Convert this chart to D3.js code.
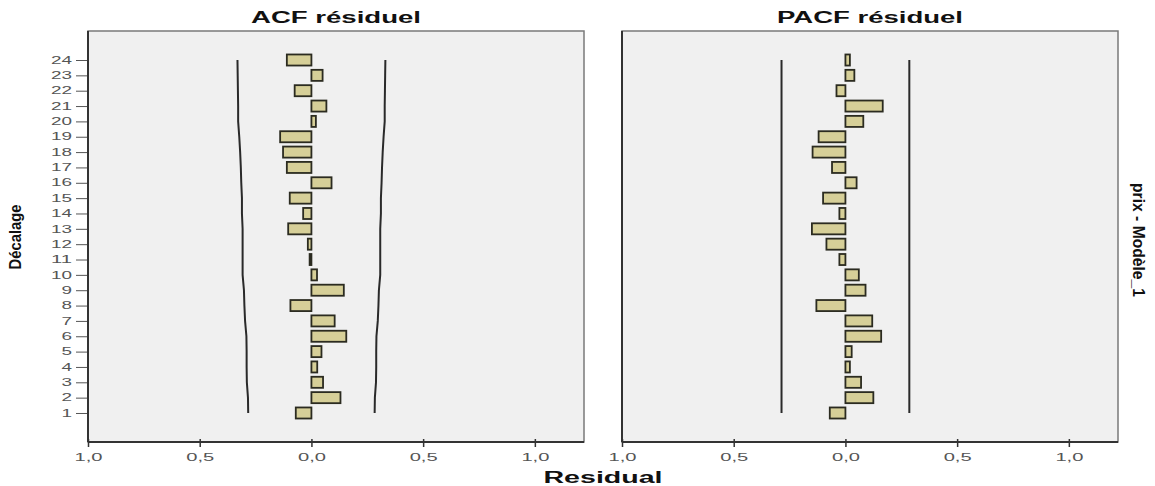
<!DOCTYPE html>
<html>
<head>
<meta charset="utf-8">
<script src="https://cdn.jsdelivr.net/npm/d3@7"></script>
<style>
  html, body { margin: 0; padding: 0; background: #ffffff; }
  svg { display: block; }
</style>
</head>
<body>
<svg id="chart" width="1155" height="486"></svg>
<script>
// ---- data ----
const lags = [1,2,3,4,5,6,7,8,9,10,11,12,13,14,15,16,17,18,19,20,21,22,23,24];
const acfValues = [-0.070, 0.130, 0.052, 0.026, 0.045, 0.156, 0.104, -0.094, 0.145, 0.025, -0.008, -0.016,
                   -0.104, -0.037, -0.097, 0.090, -0.110, -0.127, -0.140, 0.020, 0.067, -0.075, 0.050, -0.110];
const pacfValues = [-0.070, 0.125, 0.070, 0.020, 0.028, 0.160, 0.120, -0.130, 0.090, 0.060, -0.027, -0.085,
                    -0.150, -0.027, -0.100, 0.050, -0.060, -0.147, -0.120, 0.080, 0.167, -0.040, 0.040, 0.020];
const acfUpper = [0.283, 0.284, 0.289, 0.290, 0.290, 0.291, 0.297, 0.300, 0.302, 0.308, 0.308, 0.308,
                  0.308, 0.311, 0.311, 0.314, 0.316, 0.319, 0.323, 0.328, 0.328, 0.329, 0.330, 0.331];
const acfLower = [-0.283, -0.284, -0.289, -0.290, -0.290, -0.291, -0.297, -0.300, -0.302, -0.308, -0.308, -0.308,
                  -0.308, -0.311, -0.311, -0.314, -0.316, -0.319, -0.323, -0.328, -0.328, -0.329, -0.330, -0.331];
const pacfUpper = [0.286, 0.286, 0.286, 0.286, 0.286, 0.286, 0.286, 0.286, 0.286, 0.286, 0.286, 0.286,
                   0.286, 0.286, 0.286, 0.286, 0.286, 0.286, 0.286, 0.286, 0.286, 0.286, 0.286, 0.286];
const pacfLower = [-0.286, -0.286, -0.286, -0.286, -0.286, -0.286, -0.286, -0.286, -0.286, -0.286, -0.286, -0.286,
                   -0.286, -0.286, -0.286, -0.286, -0.286, -0.286, -0.286, -0.286, -0.286, -0.286, -0.286, -0.286];
const xTickValues = [-1.0, -0.5, 0.0, 0.5, 1.0];
const xTickLabels = ["1,0", "0,5", "0,0", "0,5", "1,0"];
const panelTitles = ["ACF résiduel", "PACF résiduel"];
const xAxisTitle = "Residual";
const yAxisTitle = "Décalage";
const rightLabel = "prix - Modèle_1";

// ---- layout ----
const svg = d3.select("#chart");
const plotTop = 31, plotBottom = 442;
const panels = [
  { x0: 88, x1: 584, title: panelTitles[0], titleW: 170, values: acfValues, upper: acfUpper, lower: acfLower, yTicks: true },
  { x0: 622, x1: 1118, title: panelTitles[1], titleW: 186, values: pacfValues, upper: pacfUpper, lower: pacfLower, yTicks: false }
];

const y = d3.scaleLinear().domain([-0.89, 25.89]).range([plotBottom, plotTop]);
const barH = Math.abs(y(0) - y(0.72));

const fontMain = "'Liberation Sans', Arial, sans-serif";

panels.forEach(p => {
  const x = d3.scaleLinear().domain([-1, 1.22]).range([p.x0, p.x1]);
  const g = svg.append("g");

  // background
  g.append("rect")
    .attr("x", p.x0).attr("y", plotTop)
    .attr("width", p.x1 - p.x0).attr("height", plotBottom - plotTop)
    .attr("fill", "#f0f0f0")
    .attr("stroke", "#7a7a7a").attr("stroke-width", 1.5);

  // confidence limits
  const line = d3.line().x(d => x(d[1])).y(d => y(d[0]));
  [p.upper, p.lower].forEach(arr => {
    g.append("path")
      .attr("d", line(lags.map((l, i) => [l, arr[i]])))
      .attr("fill", "none").attr("stroke", "#2a2a2a").attr("stroke-width", 2);
  });

  // bars
  g.selectAll("rect.bar").data(lags).enter().append("rect")
    .attr("class", "bar")
    .attr("x", (l, i) => Math.min(x(0), x(p.values[i])))
    .attr("y", l => y(l) - barH / 2)
    .attr("width", (l, i) => Math.abs(x(p.values[i]) - x(0)))
    .attr("height", barH)
    .attr("fill", "#d6cf98")
    .attr("stroke", "#2b2b20").attr("stroke-width", 1.8);

  // x axis
  const xAxis = d3.axisBottom(x).tickValues(xTickValues)
    .tickSize(5).tickPadding(7)
    .tickFormat((d, i) => xTickLabels[i]);
  const ax = g.append("g").attr("transform", `translate(0,${plotBottom})`).call(xAxis);
  ax.select(".domain").attr("stroke", "#333").attr("stroke-width", 2)
    .attr("d", `M${p.x0},0H${p.x1}`);
  ax.selectAll(".tick line").attr("stroke", "#333").attr("stroke-width", 1.5).attr("y1", -3);
  ax.selectAll(".tick text").attr("font-family", fontMain).attr("font-size", 10)
    .attr("fill", "#555")
    .attr("textLength", 28).attr("lengthAdjust", "spacingAndGlyphs");

  // left axis line
  g.append("line").attr("x1", p.x0).attr("x2", p.x0).attr("y1", plotTop).attr("y2", plotBottom)
    .attr("stroke", "#333").attr("stroke-width", 2);

  if (p.yTicks) {
    const yAxis = d3.axisLeft(y).tickValues(lags).tickSize(11).tickPadding(4).tickFormat(d3.format("d"));
    const ay = g.append("g").attr("transform", `translate(${p.x0 - 1},0)`).call(yAxis);
    ay.select(".domain").remove();
    ay.selectAll(".tick line").attr("stroke", "#555").attr("stroke-width", 1);
    ay.selectAll(".tick text").attr("font-family", fontMain).attr("font-size", 10)
      .attr("fill", "#555")
      .attr("textLength", d => String(d).length * 10.5)
      .attr("lengthAdjust", "spacingAndGlyphs");
  }

  // title
  g.append("text")
    .attr("x", (p.x0 + p.x1) / 2).attr("y", 23)
    .attr("text-anchor", "middle")
    .attr("font-family", fontMain).attr("font-weight", "bold").attr("font-size", 16)
    .attr("textLength", p.titleW).attr("lengthAdjust", "spacingAndGlyphs")
    .attr("fill", "#111")
    .text(p.title);
});

// axis titles
svg.append("text")
  .attr("x", (88 + 1118) / 2).attr("y", 483)
  .attr("text-anchor", "middle")
  .attr("font-family", fontMain).attr("font-weight", "bold").attr("font-size", 16)
  .attr("textLength", 119).attr("lengthAdjust", "spacingAndGlyphs")
  .attr("fill", "#111")
  .text(xAxisTitle);

svg.append("text")
  .attr("transform", `translate(21,237) rotate(-90)`)
  .attr("text-anchor", "middle")
  .attr("font-family", fontMain).attr("font-weight", "bold").attr("font-size", 16)
  .attr("textLength", 65).attr("lengthAdjust", "spacingAndGlyphs")
  .attr("fill", "#111")
  .text(yAxisTitle);

svg.append("text")
  .attr("transform", `translate(1133,240) rotate(90)`)
  .attr("text-anchor", "middle")
  .attr("font-family", fontMain).attr("font-weight", "bold").attr("font-size", 16)
  .attr("textLength", 114).attr("lengthAdjust", "spacingAndGlyphs")
  .attr("fill", "#111")
  .text(rightLabel);
</script>
</body>
</html>
